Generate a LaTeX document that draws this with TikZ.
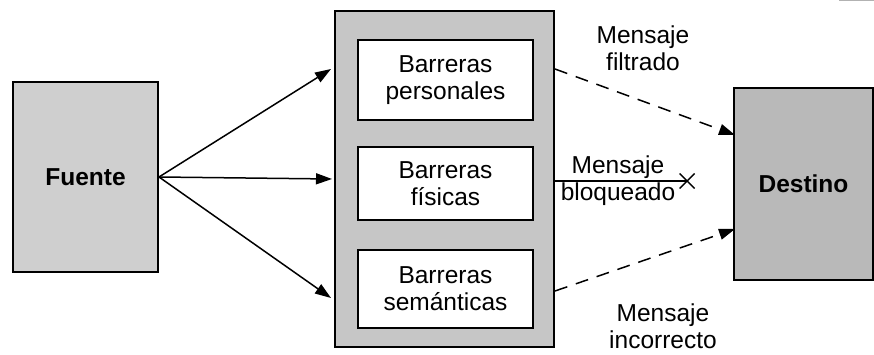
\documentclass[tikz,border=0pt]{standalone}
\usepackage{fontspec}
\setmainfont{Liberation Sans}
\usetikzlibrary{arrows.meta,calc}
\tikzset{
  txt/.style={font=\fontsize{24.5}{27}\selectfont, align=center, inner sep=0pt},
  graybox/.style={draw=black, line width=1.7pt, fill=gray!40},
  innerbox/.style={draw=black, line width=1.7pt, fill=white, minimum width=175pt, txt},
  arr/.style={line width=1.5pt, -{Triangle[length=16pt,width=11pt]}},
  darr/.style={arr, dash pattern=on 13pt off 9pt},
}
\begin{document}
\begin{tikzpicture}[x=1pt,y=-1pt]
\useasboundingbox (0,0) rectangle (874,355);
% fragment at top right
\fill[gray!60] (839,0) rectangle (874,1.5);
% source
\node[graybox, fill=gray!38, minimum width=145pt, minimum height=190pt, inner sep=0pt,
      font=\fontsize{24.5}{27}\selectfont\bfseries] (fuente) at (85.5,177) {Fuente};
% barrier frame
\node[graybox, fill=gray!45, minimum width=219pt, minimum height=336pt] (mid) at (444.5,179) {};
\node[innerbox, minimum height=80pt] (b1) at (445.5,80) {Barreras\\personales};
\node[innerbox, minimum height=73pt] (b2) at (445.5,183.5) {Barreras\\físicas};
\node[innerbox, minimum height=78pt] (b3) at (445.5,289) {Barreras\\semánticas};
% destination
\node[graybox, fill=gray!55, minimum width=139pt, minimum height=192pt, inner sep=0pt,
      font=\fontsize{24.5}{27}\selectfont\bfseries] (dest) at (803.5,184) {Destino};
% arrow end points
\coordinate (src) at (159,177);
\coordinate (t1) at (331,69);
\coordinate (t2) at (332,179);
\coordinate (t3) at (331,298);
\draw[arr] (src) -- (t1);
\draw[arr] (src) -- (t2);
\draw[arr] (src) -- (t3);
% dashed messages
\coordinate (f0) at (555,69);
\coordinate (f1) at (735,135);
\coordinate (i0) at (555,291);
\coordinate (i1) at (735,229);
\draw[darr] (f0) -- (f1);
\draw[darr] (i0) -- (i1);
% blocked message
\coordinate (bl0) at (554,181);
\coordinate (bx) at (687,181);
\draw[line width=1.4pt] (bl0) -- (bx);
\draw[line width=1.4pt] ($(bx)+(-7.5,-7.5)$) -- ($(bx)+(7.5,7.5)$) ($(bx)+(-7.5,7.5)$) -- ($(bx)+(7.5,-7.5)$);
% labels
\node[txt] (lf) at (643,48) {Mensaje\\filtrado};
\node[txt] (lb) at (618,181) {Mensaje\\bloqueado};
\node[txt] (li) at (663,326) {Mensaje\\incorrecto};
\end{tikzpicture}
\end{document}
